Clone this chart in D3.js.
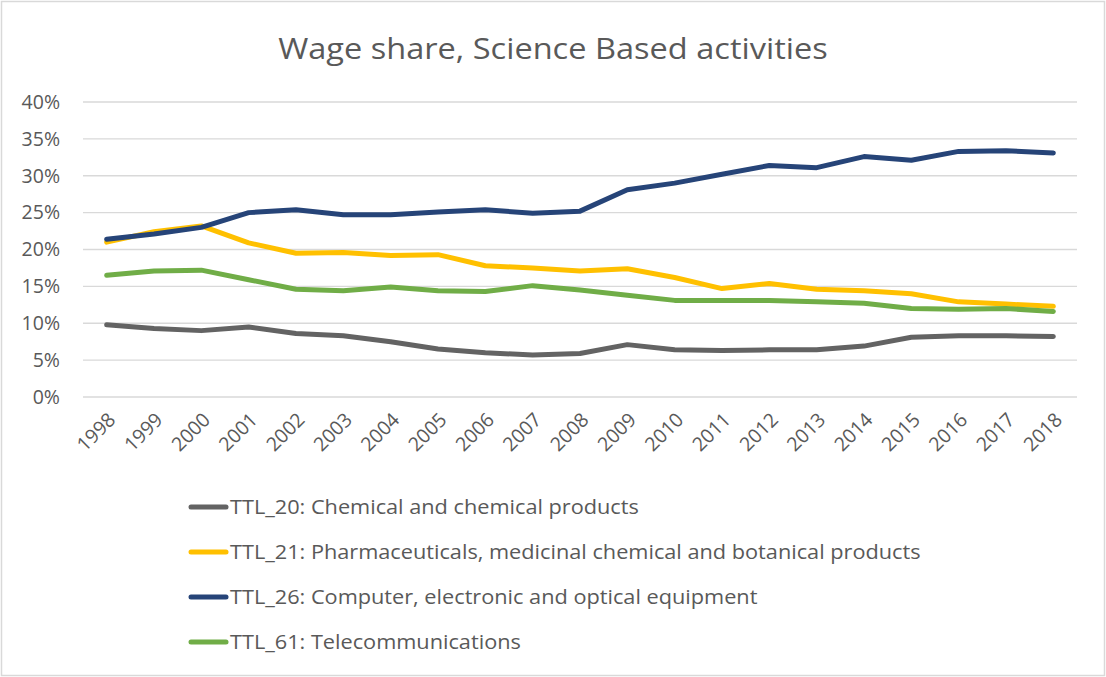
<!DOCTYPE html>
<html>
<head>
<meta charset="utf-8">
<script src="https://cdn.jsdelivr.net/npm/d3@7"></script>
<style>
  html, body { margin: 0; padding: 0; background: #fff; }
  svg { display: block; font-family: "Open Sans", Lato, sans-serif; }
</style>
</head>
<body>
<svg id="chart" width="1106" height="677"></svg>
<script>
// Wage share by year, 1998–2018 (percent)
const years = ["1998","1999","2000","2001","2002","2003","2004","2005","2006","2007","2008",
               "2009","2010","2011","2012","2013","2014","2015","2016","2017","2018"];

const ttl20 = [9.8, 9.3, 9.0, 9.5, 8.6, 8.3, 7.5, 6.5, 6.0, 5.7, 5.9,
               7.1, 6.4, 6.3, 6.4, 6.4, 6.9, 8.1, 8.3, 8.3, 8.2];
const ttl21 = [21.0, 22.4, 23.2, 20.9, 19.5, 19.6, 19.2, 19.3, 17.8, 17.5, 17.1,
               17.4, 16.2, 14.7, 15.4, 14.6, 14.4, 14.0, 12.9, 12.6, 12.3];
const ttl26 = [21.4, 22.1, 23.0, 25.0, 25.4, 24.7, 24.7, 25.1, 25.4, 24.9, 25.2,
               28.1, 29.0, 30.2, 31.4, 31.1, 32.6, 32.1, 33.3, 33.4, 33.1];
const ttl61 = [16.5, 17.1, 17.2, 15.9, 14.6, 14.4, 14.9, 14.4, 14.3, 15.1, 14.5,
               13.8, 13.1, 13.1, 13.1, 12.9, 12.7, 12.0, 11.9, 12.0, 11.6];

const seriesNames = [
  "TTL_20: Chemical and chemical products",
  "TTL_21: Pharmaceuticals, medicinal chemical and botanical products",
  "TTL_26: Computer, electronic and optical equipment",
  "TTL_61: Telecommunications"
];
const seriesColors = ["#636363", "#FFC000", "#264478", "#70AD47"];
const seriesValues = [ttl20, ttl21, ttl26, ttl61];

const yTicks = [0, 5, 10, 15, 20, 25, 30, 35, 40];
const titleText = "Wage share, Science Based activities";

const svg = d3.select("#chart");
const W = 1106, H = 677;
const plot = { left: 83, right: 1077, top: 102, bottom: 397 };
const textColor = "#595959";
const font = "'Open Sans', Lato, sans-serif";

// chart frame
svg.append("rect")
  .attr("x", 1.5).attr("y", 1.5)
  .attr("width", W - 3).attr("height", H - 3)
  .attr("fill", "#fff").attr("stroke", "#d9d9d9").attr("stroke-width", 1.5);

// title
svg.append("text")
  .attr("x", 553).attr("y", 59)
  .attr("text-anchor", "middle")
  .attr("fill", textColor)
  .attr("font-size", 30)
  .attr("transform", "translate(553,0) scale(1.085,1) translate(-553,0)")
  .text(titleText);

const x = d3.scaleBand().domain(years).range([plot.left, plot.right]);
const y = d3.scaleLinear().domain([0, 40]).range([plot.bottom, plot.top]);

// horizontal gridlines
svg.append("g")
  .selectAll("line")
  .data(yTicks)
  .join("line")
  .attr("x1", plot.left).attr("x2", plot.right)
  .attr("y1", d => y(d)).attr("y2", d => y(d))
  .attr("stroke", "#d9d9d9").attr("stroke-width", 1.3);

// y axis labels
const yAxis = svg.append("g")
  .attr("transform", `translate(${plot.left - 23},0)`)
  .call(d3.axisLeft(y).tickValues(yTicks).tickFormat(d => d + "%").tickSize(0).tickPadding(0));
yAxis.select(".domain").remove();
yAxis.selectAll("text")
  .attr("fill", textColor)
  .attr("font-size", 19.5)
  .attr("font-family", font);

// x axis labels, rotated
const xAxis = svg.append("g")
  .attr("transform", `translate(0,${plot.bottom})`)
  .call(d3.axisBottom(x).tickSize(0).tickPadding(0));
xAxis.select(".domain").remove();
xAxis.selectAll("text")
  .attr("fill", textColor)
  .attr("font-size", 19.5)
  .attr("font-family", font)
  .attr("text-anchor", "end")
  .attr("dy", null)
  .attr("transform", "translate(10,24) rotate(-45)");

// series lines
const line = d3.line()
  .x((d, i) => x(years[i]) + x.bandwidth() / 2)
  .y(d => y(d));

svg.append("g")
  .selectAll("path")
  .data(seriesValues)
  .join("path")
  .attr("d", d => line(d))
  .attr("fill", "none")
  .attr("stroke", (d, i) => seriesColors[i])
  .attr("stroke-width", 5)
  .attr("stroke-linejoin", "round")
  .attr("stroke-linecap", "round");

// legend
const legend = svg.append("g")
  .selectAll("g")
  .data(seriesNames)
  .join("g")
  .attr("transform", (d, i) => `translate(191,${507 + i * 45})`);

legend.append("line")
  .attr("x1", 0).attr("x2", 35)
  .attr("stroke", (d, i) => seriesColors[i])
  .attr("stroke-width", 5)
  .attr("stroke-linecap", "round");

legend.append("text")
  .attr("x", 39).attr("dy", "0.35em")
  .attr("fill", textColor)
  .attr("font-size", 19.5)
  .attr("transform", "translate(39,0) scale(1.114,1) translate(-39,0)")
  .text(d => d);
</script>
</body>
</html>
